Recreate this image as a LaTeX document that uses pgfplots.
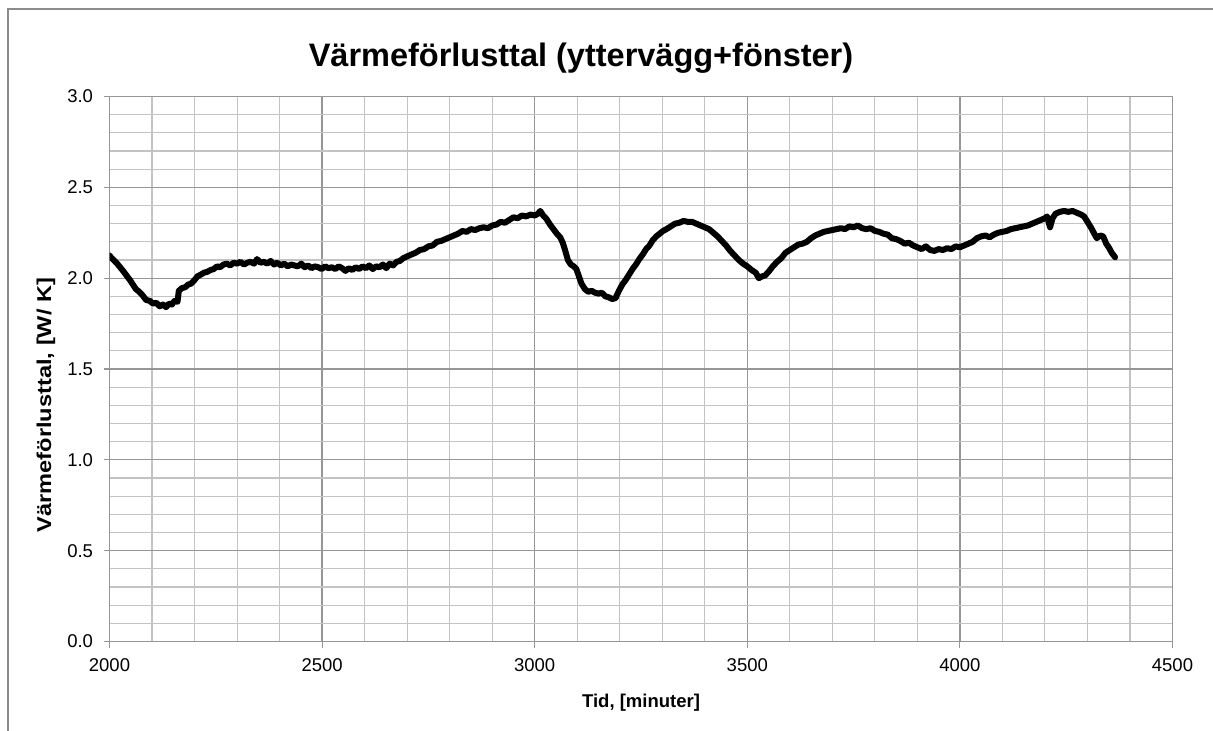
\documentclass[border=0pt]{standalone}
\usepackage{pgfplots}
\pgfplotsset{compat=1.18}
\usepackage{fontspec}
\setmainfont{Liberation Sans}
\definecolor{minorgrid}{RGB}{195,195,195}
\definecolor{majorgrid}{RGB}{150,150,150}
\definecolor{framegray}{RGB}{140,140,140}
\begin{document}
\begin{tikzpicture}
\path[use as bounding box] (0bp,0bp) rectangle (1213bp,731bp);
\draw[framegray, line width=1.3bp] (8bp,0bp) -- (8bp,722bp) -- (1213bp,722bp);
\begin{axis}[
  at={(109.5bp,89.5bp)}, anchor=south west,
  scale only axis, width=1063bp, height=545bp,
  xmin=2000, xmax=4500, ymin=0, ymax=3,
  xtick={2000,2500,...,4500}, ytick={0,0.5,...,3},
  minor x tick num=4, minor y tick num=4,
  grid=both,
  major grid style={draw=majorgrid, line width=1.3bp},
  minor grid style={draw=minorgrid, line width=1.1bp},
  axis line style={draw=majorgrid, line width=1.3bp},
  tick align=outside, major tick length=6bp, minor tick length=0pt,
  tick style={draw=majorgrid, line width=1.1bp},
  xtick pos=bottom, ytick pos=left,
  ticklabel style={font=\fontsize{18.5bp}{22bp}\selectfont},
  xticklabel style={yshift=-8bp},
  yticklabel style={xshift=-7bp, /pgf/number format/fixed, /pgf/number format/fixed zerofill, /pgf/number format/precision=1},
  /pgf/number format/assume math mode=true,
  /pgf/number format/1000 sep={},
]
\addplot[black, line width=6bp, line join=round, line cap=round] table {
2000 2.125
2005 2.11
2010 2.10
2018 2.08
2025 2.06
2032 2.04
2040 2.015
2048 1.99
2055 1.965
2062 1.94
2070 1.925
2078 1.905
2086 1.88
2095 1.875
2102 1.86
2110 1.865
2118 1.845
2126 1.855
2133 1.84
2140 1.86
2147 1.855
2153 1.875
2160 1.87
2163 1.93
2170 1.945
2178 1.95
2185 1.965
2192 1.97
2200 1.99
2207 2.01
2215 2.02
2222 2.03
2230 2.035
2238 2.045
2245 2.05
2253 2.065
2260 2.06
2268 2.075
2276 2.08
2284 2.07
2292 2.085
2300 2.08
2308 2.09
2316 2.075
2324 2.085
2332 2.09
2340 2.08
2347 2.105
2355 2.085
2363 2.09
2371 2.08
2379 2.095
2387 2.075
2395 2.085
2403 2.07
2411 2.08
2419 2.065
2427 2.075
2435 2.07
2443 2.065
2451 2.08
2459 2.06
2467 2.07
2475 2.055
2483 2.065
2491 2.06
2499 2.05
2507 2.065
2515 2.055
2523 2.06
2531 2.05
2539 2.065
2547 2.055
2555 2.04
2563 2.055
2571 2.045
2579 2.06
2587 2.05
2595 2.065
2603 2.055
2611 2.07
2619 2.05
2627 2.065
2635 2.06
2643 2.075
2651 2.055
2659 2.08
2667 2.07
2675 2.09
2683 2.095
2691 2.11
2700 2.12
2710 2.13
2720 2.14
2730 2.155
2740 2.16
2750 2.175
2760 2.18
2770 2.2
2780 2.205
2790 2.215
2800 2.225
2810 2.235
2820 2.245
2830 2.26
2840 2.255
2850 2.27
2860 2.265
2870 2.275
2880 2.28
2890 2.275
2900 2.29
2910 2.295
2920 2.31
2930 2.305
2940 2.32
2950 2.335
2960 2.33
2970 2.345
2980 2.34
2990 2.35
3000 2.345
3008 2.355
3013 2.37
3020 2.345
3028 2.325
3036 2.295
3044 2.27
3052 2.245
3060 2.225
3066 2.195
3072 2.15
3078 2.1
3085 2.075
3092 2.065
3098 2.05
3104 2.01
3110 1.97
3118 1.94
3126 1.925
3134 1.93
3142 1.92
3150 1.915
3158 1.92
3166 1.9
3174 1.895
3182 1.885
3190 1.89
3198 1.93
3206 1.965
3214 1.99
3222 2.02
3230 2.05
3238 2.075
3246 2.105
3254 2.13
3262 2.16
3270 2.18
3278 2.21
3286 2.23
3294 2.245
3302 2.26
3310 2.27
3320 2.285
3330 2.3
3340 2.305
3350 2.315
3360 2.31
3370 2.31
3380 2.3
3390 2.29
3400 2.28
3410 2.27
3420 2.25
3430 2.23
3440 2.205
3450 2.18
3460 2.15
3470 2.125
3480 2.1
3490 2.08
3500 2.065
3510 2.045
3520 2.03
3527 2.0
3535 2.01
3542 2.015
3550 2.035
3560 2.065
3570 2.09
3580 2.11
3590 2.14
3600 2.155
3610 2.17
3620 2.185
3630 2.19
3640 2.2
3650 2.22
3660 2.235
3670 2.245
3680 2.255
3690 2.26
3700 2.265
3710 2.27
3720 2.275
3730 2.27
3740 2.285
3750 2.28
3760 2.29
3770 2.275
3780 2.27
3790 2.275
3800 2.26
3810 2.255
3820 2.245
3830 2.24
3840 2.22
3850 2.215
3860 2.205
3870 2.19
3880 2.195
3890 2.18
3900 2.17
3910 2.16
3920 2.175
3930 2.155
3940 2.15
3950 2.16
3960 2.155
3970 2.165
3980 2.16
3990 2.175
4000 2.17
4010 2.18
4020 2.19
4030 2.2
4040 2.22
4050 2.23
4060 2.235
4070 2.225
4080 2.24
4090 2.25
4100 2.255
4110 2.26
4120 2.27
4130 2.275
4140 2.28
4150 2.285
4160 2.29
4170 2.3
4180 2.31
4190 2.32
4200 2.33
4205 2.34
4212 2.28
4218 2.33
4225 2.355
4235 2.365
4245 2.37
4255 2.365
4265 2.37
4275 2.36
4285 2.35
4292 2.34
4300 2.31
4308 2.28
4316 2.245
4322 2.22
4330 2.235
4337 2.23
4344 2.19
4350 2.17
4357 2.14
4365 2.115
};
\end{axis}
\node[anchor=base, font=\bfseries\fontsize{32.5bp}{38bp}\selectfont] at (581bp,664bp) {Värmeförlusttal (yttervägg+fönster)};
\node[anchor=base, font=\bfseries\fontsize{18.5bp}{22bp}\selectfont] at (641bp,24bp) {Tid, [minuter]};
\node[rotate=90, anchor=center, inner sep=0pt, font=\bfseries\fontsize{20bp}{24bp}\selectfont] at (46bp,326bp) {\scalebox{1.18}[1]{Värmeförlusttal, [W/ K]}};
\end{tikzpicture}
\end{document}
